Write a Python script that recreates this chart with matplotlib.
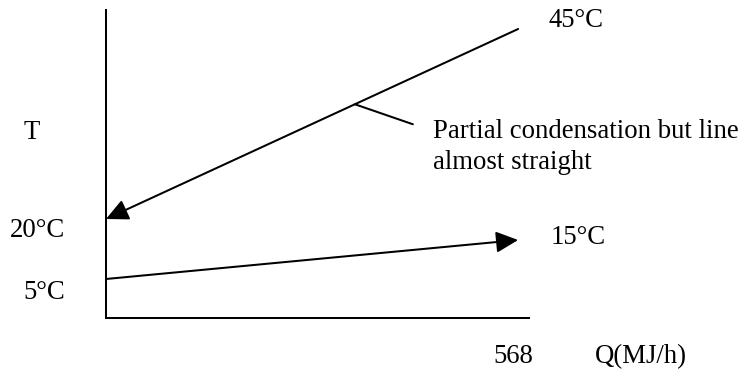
import matplotlib
matplotlib.use('Agg')

import numpy as np
import matplotlib.pyplot as plt

plt.rcParams['font.family'] = ['Liberation Serif', 'DejaVu Serif']
FS = 19.3

# heat load and stream end temperatures
q_duty = 568
hot_Q = [568, 0]      # condensing stream, 45 -> 20 C
hot_T = [45, 20]
cold_Q = [0, 568]     # cooling water, 5 -> 15 C
cold_T = [5, 15]
note_Q = 343          # where the remark points on the hot line

# sketch is not to scale: piecewise temperature axis
T_ANCHOR = [0, 5, 15, 20, 45, 50]
H_ANCHOR = [0, 39, 78, 99, 289, 327]

def fwd(t):
    return np.interp(t, T_ANCHOR, H_ANCHOR)

def inv(h):
    return np.interp(h, H_ANCHOR, T_ANCHOR)

W, H = 739, 371
fig = plt.figure(figsize=(W / 100, H / 100), dpi=100)
ax = fig.add_axes([106 / W, 53 / H, 423 / W, 308 / H])
ax.set_yscale('function', functions=(fwd, inv))
ax.set_xlim(0, 583)
ax.set_ylim(0, 47.5)
ax.set_xticks([])
ax.set_yticks([])
ax.minorticks_off()
for s in ['top', 'right']:
    ax.spines[s].set_visible(False)
for s in ['left', 'bottom']:
    ax.spines[s].set_linewidth(1.45)

arrow = dict(arrowstyle='-|>,head_length=13.5,head_width=6.5', mutation_scale=1,
             color='black', lw=1.45, shrinkA=0, shrinkB=0)
ax.annotate('', xy=(hot_Q[1], hot_T[1]), xytext=(hot_Q[0], hot_T[0]),
            arrowprops=arrow, annotation_clip=False)
ax.annotate('', xy=(cold_Q[1], cold_T[1]), xytext=(cold_Q[0], cold_T[0]),
            arrowprops=arrow, annotation_clip=False)

# leader line for the remark
note_T = np.interp(note_Q, hot_Q[::-1], hot_T[::-1])
ax.annotate('', xy=(note_Q, note_T), xytext=(58, -20), textcoords='offset pixels',
            arrowprops=dict(arrowstyle='-', color='black', lw=1.45, shrinkA=0, shrinkB=0),
            annotation_clip=False)
fig.text(433 / W, 1 - 138 / H, 'Partial condensation but line', fontsize=FS, va='baseline')
fig.text(433 / W, 1 - 169 / H, 'almost straight', fontsize=FS, va='baseline')

def label(txt, xy, off, ha='left', xycoords='data'):
    ax.annotate(txt, xy=xy, xycoords=xycoords, xytext=off, textcoords='offset pixels',
                fontsize=FS, ha=ha, va='baseline', annotation_clip=False)

label('%d\u00b0C' % hot_T[1], (0, hot_T[1]), (-41, -18), ha='right')
label('%d\u00b0C' % cold_T[0], (0, cold_T[0]), (-41, -20), ha='right')
label('%d\u00b0C' % hot_T[0], (hot_Q[0], hot_T[0]), (30, 2))
label('%d\u00b0C' % cold_T[1], (cold_Q[1], cold_T[1]), (32, -4))
label('%d' % q_duty, (q_duty, 0), (-5, -45), ha='center')
label('Q(MJ/h)', (1, 0), (66, -45), xycoords='axes fraction')
fig.text(24 / W, 1 - 139 / H, 'T', fontsize=FS, va='baseline')

fig.savefig('out.png', dpi=100)
